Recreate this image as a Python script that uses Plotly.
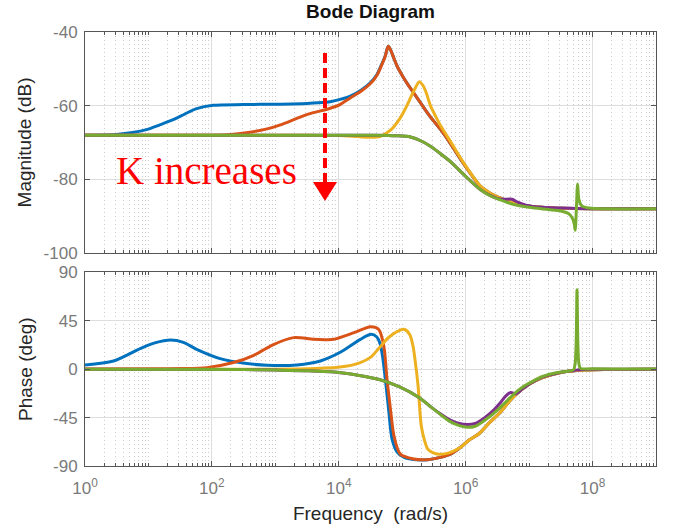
import plotly.graph_objects as go

# ---------------- data (frequency as log10(rad/s)) ----------------
colors = ["#0072BD", "#D95319", "#EDB120", "#7E2F8E", "#77AC30"]
names = ["K1", "K2", "K3", "K4", "K5"]

# Magnitude (dB)
mag_blue_e = [0, 0.5, 0.75, 0.97, 1.18, 1.39, 1.58, 1.76, 2.02, 2.5,
              3.0, 3.5, 3.79, 3.9, 4.02, 4.18, 4.35, 4.5, 4.6, 4.67,
              4.73, 4.78, 4.82, 4.87, 4.92, 5.0, 5.08, 5.16, 5.24, 5.35,
              5.45, 5.61, 5.76, 5.97, 6.24, 6.4, 6.55, 6.75, 7.0, 7.3,
              7.7, 8.2, 9.0]
mag_blue = [-68.0, -67.8, -67.3, -66.5, -65.2, -63.8, -62.2, -60.8, -59.9, -59.7,
            -59.6, -59.4, -59.1, -58.8, -58.3, -57.4, -55.8, -53.7, -51.6, -49.0,
            -46.6, -43.9, -45.0, -47.2, -49.3, -51.8, -54.0, -56.0, -58.0, -60.8,
            -63.2, -66.6, -70.3, -75.8, -82.0, -83.9, -85.1, -86.4, -87.3, -87.7,
            -87.9, -88.0, -88.0]

mag_red_e = [0, 1.5, 2.0, 2.3, 2.6, 2.87, 3.08, 3.29, 3.45, 3.6,
             3.79, 3.9, 4.02, 4.18, 4.35, 4.5, 4.6, 4.67, 4.73, 4.78,
             4.82, 4.87, 4.92, 5.0, 5.08, 5.16, 5.24, 5.35, 5.45, 5.61,
             5.76, 5.97, 6.24, 6.4, 6.55, 6.75, 7.0, 7.3, 7.7, 8.2, 9.0]
mag_red = [-68.0, -68.0, -68.0, -67.8, -67.2, -66.3, -65.2, -63.8, -62.7, -61.9,
           -61.1, -60.5, -59.7, -57.9, -56.1, -54.0, -51.8, -49.2, -46.7, -43.9,
           -45.0, -47.2, -49.3, -51.8, -54.0, -56.0, -58.0, -60.8, -63.2, -66.6,
           -70.3, -75.8, -82.0, -83.9, -85.1, -86.4, -87.3, -87.7, -87.9, -88.0, -88.0]

mag_yellow_e = [0, 3.5, 4.0, 4.3, 4.5, 4.66, 4.82, 4.97, 5.05, 5.13,
                5.2, 5.27, 5.33, 5.37, 5.45, 5.53, 5.61, 5.76, 5.97, 6.24,
                6.4, 6.55, 6.75, 7.0, 7.3, 7.7, 8.2, 9.0]
mag_yellow = [-68.0, -68.0, -68.1, -68.4, -68.6, -68.3, -66.6, -63.3, -60.8, -57.9,
              -55.4, -53.5, -54.6, -56.1, -60.2, -63.0, -65.6, -69.7, -75.6, -82.0,
              -83.9, -85.1, -86.4, -87.3, -87.7, -87.9, -88.0, -88.0]

mag_purple_e = [0, 4.6, 4.9, 5.13, 5.3, 5.45, 5.6, 5.76, 6.0, 6.24,
                6.4, 6.5, 6.6, 6.73, 6.82, 6.95, 7.2, 7.5, 7.8, 8.2, 9.0]
mag_purple = [-68.0, -68.0, -68.15, -68.5, -69.6, -71.1, -73.0, -75.2, -79.2, -82.9,
              -84.5, -85.2, -85.4, -85.4, -86.2, -87.0, -87.6, -87.8, -87.9, -88.0, -88.0]

mag_green_e = [0, 4.6, 4.9, 5.13, 5.3, 5.45, 5.6, 5.76, 6.0, 6.24,
               6.4, 6.55, 6.75, 7.0, 7.3, 7.5, 7.62, 7.68, 7.71, 7.726,
               7.745, 7.764, 7.785, 7.83, 7.95, 8.2, 9.0]
mag_green = [-68.0, -68.0, -68.15, -68.5, -69.6, -71.1, -73.0, -75.2, -79.2, -82.9,
             -84.6, -85.6, -86.8, -87.6, -88.2, -88.6, -89.3, -90.5, -92.0, -93.8,
             -88.0, -81.3, -85.5, -87.2, -87.8, -88.0, -88.0]

# Phase (deg)
ph_blue_e = [0, 0.45, 0.87, 1.1, 1.35, 1.55, 1.76, 2.13, 2.55, 2.87,
             3.34, 3.71, 4.03, 4.34, 4.51, 4.6, 4.65, 4.69, 4.74, 4.79,
             4.84, 4.92, 5.03, 5.18, 5.4, 5.6, 5.76, 5.92, 6.05, 6.21,
             6.37, 6.53, 6.7, 6.84, 7.0, 7.2, 7.5, 7.8, 8.2, 9.0]
ph_blue = [4.0, 7.7, 19.2, 24.5, 27.2, 25.0, 18.5, 9.9, 5.3, 3.7,
           4.0, 7.7, 16.0, 27.8, 32.5, 30.0, 24.0, 12.0, -12.4, -40.0,
           -65.0, -77.0, -82.0, -84.0, -84.1, -82.0, -79.0, -72.6, -66.0, -60.0,
           -50.0, -41.0, -29.0, -21.0, -14.0, -8.0, -3.0, -1.0, -0.3, 0.0]

ph_red_e = [0, 1.5, 1.92, 2.34, 2.66, 2.97, 3.29, 3.6, 3.8, 3.92,
            4.24, 4.5, 4.63, 4.71, 4.76, 4.82, 4.87, 4.97, 5.18, 5.4,
            5.6, 5.76, 5.92, 6.05, 6.21, 6.37, 6.53, 6.7, 6.84, 7.0,
            7.2, 7.5, 7.8, 8.2, 9.0]
ph_red = [0.3, 0.6, 1.5, 6.2, 13.0, 23.0, 29.4, 27.8, 27.5, 27.8,
          34.0, 39.6, 37.0, 21.6, -9.3, -40.0, -62.0, -79.0, -83.5, -84.1,
          -82.0, -79.0, -72.6, -66.0, -60.0, -50.0, -41.0, -29.0, -21.0, -14.0,
          -8.0, -3.0, -1.0, -0.3, 0.0]

ph_yellow_e = [0, 3.5, 4.02, 4.33, 4.5, 4.64, 4.75, 4.85, 4.95, 5.04,
               5.12, 5.17, 5.21, 5.25, 5.3, 5.35, 5.4, 5.48, 5.58, 5.75,
               5.92, 6.05, 6.21, 6.37, 6.53, 6.7, 6.84, 7.0, 7.2, 7.5,
               7.8, 8.2, 9.0]
ph_yellow = [0.0, 0.5, 2.0, 6.0, 11.0, 20.0, 27.5, 32.5, 36.0, 37.0,
             32.0, 21.6, 5.0, -15.5, -52.6, -66.0, -74.0, -77.5, -79.0, -77.5,
             -72.6, -66.0, -60.0, -50.0, -41.0, -29.0, -21.0, -14.0, -8.0, -3.0,
             -1.0, -0.3, 0.0]

ph_purple_e = [0, 2.5, 3.0, 3.5, 4.0, 4.3, 4.64, 4.96, 5.27, 5.45,
               5.6, 5.75, 5.9, 6.03, 6.15, 6.3, 6.45, 6.55, 6.63, 6.71,
               6.79, 6.9, 7.05, 7.2, 7.45, 7.6, 7.72, 7.8, 8.0, 9.0]
ph_purple = [0.0, -0.3, -0.8, -1.5, -3.0, -5.5, -9.5, -16.5, -26.5, -35.0,
             -41.5, -47.0, -50.5, -51.5, -50.5, -45.0, -37.5, -31.0, -25.0, -21.6,
             -23.0, -18.0, -12.0, -7.5, -3.5, -2.0, -1.0, -0.4, -0.1, 0.0]

ph_green_e = [0, 2.5, 3.0, 3.5, 4.0, 4.3, 4.64, 4.96, 5.27, 5.45,
              5.6, 5.75, 5.9, 6.03, 6.15, 6.3, 6.45, 6.6, 6.75, 6.9,
              7.05, 7.2, 7.45, 7.6, 7.7, 7.725, 7.742, 7.755, 7.768, 7.785,
              7.81, 8.0, 9.0]
ph_green = [0.0, -0.3, -0.8, -1.5, -3.0, -5.5, -9.5, -16.5, -26.5, -35.0,
            -42.0, -48.5, -52.5, -54.0, -53.0, -47.5, -40.5, -32.5, -23.5, -16.5,
            -11.5, -7.0, -3.0, -1.8, -0.5, 5.0, 25.0, 74.0, 25.0, 5.0,
            0.8, 0.4, 0.2]

mag_ticks = [-100, -80, -60, -40]
mag_tick_text = ["-100", "-80", "-60", "-40"]
phase_ticks = [-90, -45, 0, 45, 90]
phase_tick_text = ["-90", "-45", "0", "45", "90"]
freq_major = [1e0, 1e2, 1e4, 1e6, 1e8]
freq_major_text = ["10<sup>0</sup>", "10<sup>2</sup>", "10<sup>4</sup>", "10<sup>6</sup>", "10<sup>8</sup>"]
freq_minor = [k * 10.0 ** n for n in range(0, 9) for k in range(1, 10)
              if not (k == 1 and n % 2 == 0)]

mag_sets = [(mag_blue_e, mag_blue), (mag_red_e, mag_red), (mag_yellow_e, mag_yellow),
            (mag_purple_e, mag_purple), (mag_green_e, mag_green)]
ph_sets = [(ph_blue_e, ph_blue), (ph_red_e, ph_red), (ph_yellow_e, ph_yellow),
           (ph_purple_e, ph_purple), (ph_green_e, ph_green)]

# ---------------- figure ----------------
fig = go.Figure()
line_style = dict(width=3, shape="spline", smoothing=0.8)
for (e, v), c, n in zip(mag_sets, colors, names):
    fig.add_trace(go.Scatter(x=[10.0 ** k for k in e], y=v, mode="lines", name=n,
                             line=dict(color=c, **line_style), xaxis="x", yaxis="y",
                             showlegend=False, hoverinfo="skip"))
for (e, v), c, n in zip(ph_sets, colors, names):
    fig.add_trace(go.Scatter(x=[10.0 ** k for k in e], y=v, mode="lines", name=n,
                             line=dict(color=c, **line_style), xaxis="x2", yaxis="y2",
                             showlegend=False, hoverinfo="skip"))

FONT = "Liberation Sans, Arial, Helvetica, sans-serif"
tick_font = dict(family=FONT, size=17, color="#7a7a7a")
title_font = dict(family=FONT, size=19, color="#262626")
frame = "#555555"

xcommon = dict(type="log", range=[0, 9], tickmode="array", tickvals=freq_major,
               showgrid=True, gridcolor="#dedede", gridwidth=1,
               showline=True, linecolor=frame, linewidth=1, mirror="ticks",
               ticks="inside", ticklen=5, tickcolor=frame, zeroline=False,
               tickfont=tick_font, automargin=False,
               minor=dict(tickmode="array", tickvals=freq_minor, showgrid=True,
                          gridcolor="#cccccc", griddash="1px,3px", gridwidth=1,
                          ticks="inside", ticklen=3, tickcolor=frame))
ycommon = dict(showgrid=True, gridcolor="#dedede", gridwidth=1, showline=True,
               linecolor=frame, linewidth=1, mirror="ticks", ticks="inside",
               ticklen=5, tickcolor=frame, zeroline=False, tickfont=tick_font,
               tickmode="array", automargin=False, ticklabelstandoff=3)

fig.update_layout(
    width=679, height=531,
    margin=dict(l=85, r=23, t=32, b=65),
    paper_bgcolor="white", plot_bgcolor="white",
    xaxis=dict(**xcommon, anchor="y", domain=[0, 1], showticklabels=False),
    xaxis2=dict(**xcommon, anchor="y2", domain=[0, 1], ticktext=freq_major_text,
                ticklabelstandoff=7,
                title=dict(text="Frequency\u00a0 (rad/s)", font=title_font, standoff=9)),
    yaxis=dict(**ycommon, anchor="x", domain=[0.4908, 1.0], range=[-100, -40],
               tickvals=mag_ticks, ticktext=mag_tick_text,
               title=dict(text="Magnitude (dB)", font=title_font, standoff=6)),
    yaxis2=dict(**ycommon, anchor="x2", domain=[0.0, 0.4459], range=[-90, 90],
                tickvals=phase_ticks, ticktext=phase_tick_text,
                title=dict(text="Phase (deg)", font=title_font, standoff=15)),
    title=dict(text="<b>Bode Diagram</b>", x=0.5457, xanchor="center",
               y=1 - 11 / 531, yanchor="middle", yref="container",
               font=dict(family=FONT, size=19, color="#111111")),
    showlegend=False,
)

# "K increases" annotation with dashed red arrow
fig.add_annotation(text="K increases", xref="paper", yref="paper", x=0.2128, y=0.6820,
                   xanchor="center", yanchor="middle", showarrow=False,
                   font=dict(family="Liberation Serif, Times New Roman, serif", size=39,
                             color="#ff0000"))
fig.add_shape(type="line", xref="paper", yref="paper", x0=0.4203, x1=0.4203,
              y0=0.9516, y1=0.6544, line=dict(color="#ff0000", width=4, dash="10px,5px"))
fig.add_shape(type="path", xref="paper", yref="paper",
              path="M 0.3993 0.6544 L 0.4413 0.6544 L 0.4203 0.6106 Z",
              fillcolor="#ff0000", line=dict(width=0))

fig.write_html("out.html", config={"displayModeBar": False},
               post_script="document.body.style.margin='0';")
